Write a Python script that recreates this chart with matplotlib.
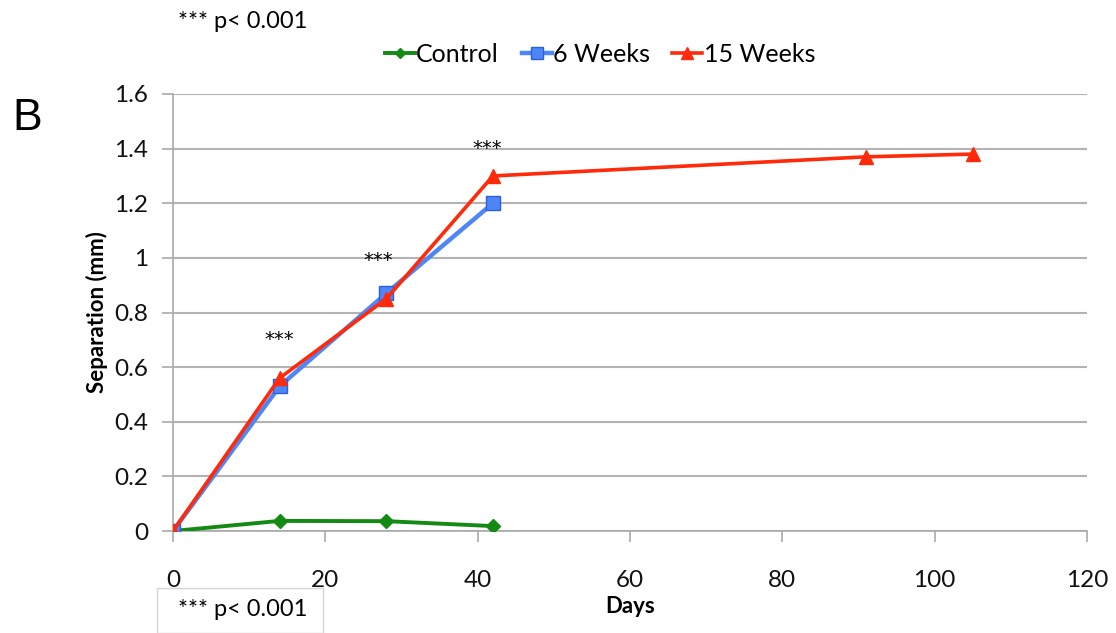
import matplotlib
matplotlib.use("Agg")
import matplotlib.pyplot as plt
from matplotlib.patches import Rectangle

days_control = [0, 14, 28, 42]
control = [0.0, 0.037, 0.036, 0.018]
days_6w = [0, 14, 28, 42]
weeks6 = [0.0, 0.53, 0.87, 1.20]
days_15w = [0, 14, 28, 42, 91, 105]
weeks15 = [0.0, 0.56, 0.85, 1.30, 1.37, 1.38]
star_days = [14, 27, 41.3]
star_y = [0.70, 0.99, 1.40]
xticks = [0, 20, 40, 60, 80, 100, 120]
yticks = [0, 0.2, 0.4, 0.6, 0.8, 1.0, 1.2, 1.4, 1.6]
ytick_labels = ["0", "0.2", "0.4", "0.6", "0.8", "1", "1.2", "1.4", "1.6"]

FONT = "Lato"
fig = plt.figure(figsize=(11.16, 6.33), dpi=100)
ax = fig.add_axes([173/1116, 1-531/633, (1087-173)/1116, (531-94)/633])

ax.plot(days_control, control, color="#138a13", lw=2.8, marker="D", ms=7,
        mfc="#138a13", mec="#138a13", label="Control", zorder=3)
ax.plot(days_6w, weeks6, color="#4f86f7", lw=3.2, marker="s", ms=10,
        mfc="#4f86f7", mec="#2a5fe0", mew=1.0, label="6 Weeks", zorder=4)
ax.plot(days_15w, weeks15, color="#ff2a0a", lw=2.6, marker="^", ms=10,
        mfc="#ff2a0a", mec="#ff2a0a", label="15 Weeks", zorder=5)

for d, yv in zip(star_days, star_y):
    ax.text(d, yv, "***", ha="center", va="center", fontsize=14, family="DejaVu Sans")

ax.set_xlim(0, 120)
ax.set_ylim(0, 1.6)
ax.set_xticks(xticks)
ax.set_yticks(yticks)
ax.set_yticklabels(ytick_labels)
for lab in ax.get_xticklabels() + ax.get_yticklabels():
    lab.set_fontfamily(FONT)
    lab.set_fontsize(17.5)
    lab.set_color("#111111")
ax.tick_params(axis="x", direction="out", length=8, width=1.2, color="#aaaaaa", pad=20)
ax.tick_params(axis="y", direction="out", length=8, width=1.2, color="#aaaaaa", pad=10)
ax.grid(axis="y", color="#b3b3b3", lw=1.5)
ax.set_axisbelow(True)
for s in ["top", "right"]:
    ax.spines[s].set_visible(False)
for s in ["left", "bottom"]:
    ax.spines[s].set_color("#aaaaaa")
    ax.spines[s].set_linewidth(1.2)

ax.set_xlabel("Days", fontfamily=FONT, fontweight="bold", fontsize=16, labelpad=4)
ax.set_ylabel("Separation (mm)", fontfamily=FONT, fontweight="bold", fontsize=16, labelpad=4)

leg = fig.legend(loc="center", bbox_to_anchor=(600/1116, 1-54/633), ncol=3, frameon=False,
                 prop={"family": FONT, "size": 18}, handlelength=1.2, handletextpad=0.05,
                 columnspacing=0.9, markerscale=0.8)

fig.text(12/1116, 1-118/633, "B", fontsize=32, family="Liberation Sans", va="center", ha="left")
fig.text(178/1116, 1-22/633, "*** p< 0.001", fontsize=17, family=FONT, va="center", ha="left")
fig.add_artist(Rectangle((157/1116, 0), (323-157)/1116, (633-588)/633, transform=fig.transFigure,
                         fill=False, edgecolor="#d5d5d5", lw=1.0))
fig.text(178/1116, 1-610/633, "*** p< 0.001", fontsize=17, family=FONT, va="center", ha="left")

fig.savefig("out.png", dpi=100)
